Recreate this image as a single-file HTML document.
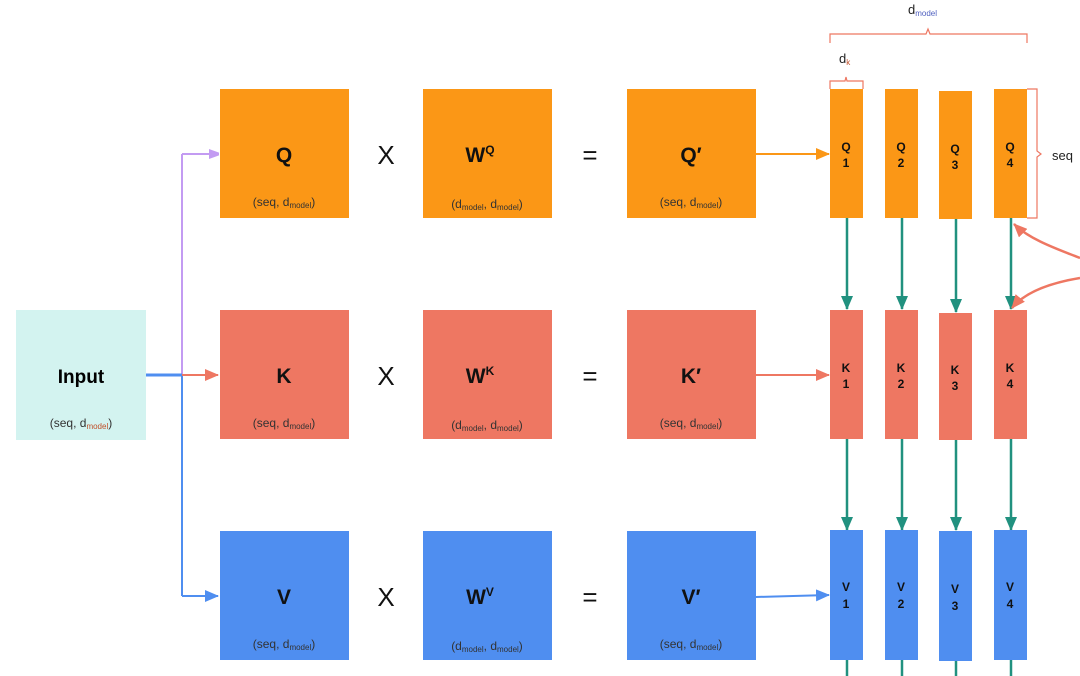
<!DOCTYPE html>
<html><head><meta charset="utf-8"><style>
html,body{margin:0;padding:0;background:#fff;width:1080px;height:676px;overflow:hidden}
svg text{font-family:"Liberation Sans",sans-serif}
</style></head><body>
<svg width="1080" height="676" viewBox="0 0 1080 676" xmlns="http://www.w3.org/2000/svg">
<defs>
<marker id="aP" markerWidth="10" markerHeight="10" refX="9" refY="5" orient="auto" markerUnits="userSpaceOnUse"><path d="M0,0 L14,5 L0,10z" fill="#c39bf2"/></marker>
<marker id="aS" markerWidth="14" markerHeight="12" refX="13" refY="6" orient="auto" markerUnits="userSpaceOnUse"><path d="M0,0 L14,6 L0,12z" fill="#ee7762"/></marker>
<marker id="aB" markerWidth="14" markerHeight="12" refX="13" refY="6" orient="auto" markerUnits="userSpaceOnUse"><path d="M0,0 L14,6 L0,12z" fill="#4f8ef0"/></marker>
<marker id="aO" markerWidth="14" markerHeight="12" refX="13" refY="6" orient="auto" markerUnits="userSpaceOnUse"><path d="M0,0 L14,6 L0,12z" fill="#fb9716"/></marker>
<marker id="aT" markerWidth="14" markerHeight="12" refX="13" refY="6" orient="auto" markerUnits="userSpaceOnUse"><path d="M0,0 L14,6 L0,12z" fill="#21917f"/></marker>
</defs>

<!-- Input -->
<rect x="16" y="310" width="130" height="130" fill="#d3f3f0"/>
<text x="81" y="383" font-size="19" font-weight="bold" text-anchor="middle">Input</text>
<text x="81" y="427" font-size="12" text-anchor="middle" fill="#333">(seq, d<tspan font-size="8" dy="2" fill="#c0502a">model</tspan><tspan dy="-2">)</tspan></text>

<!-- branch lines -->
<line x1="182" y1="154" x2="182" y2="375" stroke="#c39bf2" stroke-width="2"/>
<line x1="182" y1="154" x2="218" y2="154" stroke="#c39bf2" stroke-width="2" marker-end="url(#aP)"/>
<line x1="182" y1="375" x2="182" y2="596" stroke="#4f8ef0" stroke-width="2"/>
<line x1="182" y1="596" x2="218" y2="596" stroke="#4f8ef0" stroke-width="2" marker-end="url(#aB)"/>
<line x1="146" y1="375" x2="182" y2="375" stroke="#4f8ef0" stroke-width="3"/>
<line x1="182" y1="375" x2="218" y2="375" stroke="#ee7762" stroke-width="2" marker-end="url(#aS)"/>

<!-- rows -->
<g font-size="12" text-anchor="middle" fill="#222">
<!-- Q -->
<rect x="220" y="89" width="129" height="129" fill="#fb9716"/>
<rect x="423" y="89" width="129" height="129" fill="#fb9716"/>
<rect x="627" y="89" width="129" height="129" fill="#fb9716"/>
<!-- K -->
<rect x="220" y="310" width="129" height="129" fill="#ee7762"/>
<rect x="423" y="310" width="129" height="129" fill="#ee7762"/>
<rect x="627" y="310" width="129" height="129" fill="#ee7762"/>
<!-- V -->
<rect x="220" y="531" width="129" height="129" fill="#4f8ef0"/>
<rect x="423" y="531" width="129" height="129" fill="#4f8ef0"/>
<rect x="627" y="531" width="129" height="129" fill="#4f8ef0"/>
</g>

<g font-weight="bold" font-size="21" text-anchor="middle" fill="#111">
<text x="284" y="162">Q</text><text x="480" y="162">W<tspan font-size="12" dy="-8">Q</tspan></text><text x="691" y="162">Q′</text>
<text x="284" y="383">K</text><text x="480" y="383">W<tspan font-size="12" dy="-8">K</tspan></text><text x="691" y="383">K′</text>
<text x="284" y="604">V</text><text x="480" y="604">W<tspan font-size="12" dy="-8">V</tspan></text><text x="691" y="604">V′</text>
</g>
<g font-size="26" text-anchor="middle" fill="#111">
<text x="386" y="164">X</text><text x="590" y="164">=</text>
<text x="386" y="385">X</text><text x="590" y="385">=</text>
<text x="386" y="606">X</text><text x="590" y="606">=</text>
</g>
<g font-size="12" text-anchor="middle" fill="#333">
<text x="284" y="206">(seq, d<tspan font-size="8" dy="2">model</tspan><tspan dy="-2">)</tspan></text>
<text x="487" y="208">(d<tspan font-size="8" dy="2">model</tspan><tspan dy="-2">, d</tspan><tspan font-size="8" dy="2">model</tspan><tspan dy="-2">)</tspan></text>
<text x="691" y="206">(seq, d<tspan font-size="8" dy="2">model</tspan><tspan dy="-2">)</tspan></text>
<text x="284" y="427">(seq, d<tspan font-size="8" dy="2">model</tspan><tspan dy="-2">)</tspan></text>
<text x="487" y="429">(d<tspan font-size="8" dy="2">model</tspan><tspan dy="-2">, d</tspan><tspan font-size="8" dy="2">model</tspan><tspan dy="-2">)</tspan></text>
<text x="691" y="427">(seq, d<tspan font-size="8" dy="2">model</tspan><tspan dy="-2">)</tspan></text>
<text x="284" y="648">(seq, d<tspan font-size="8" dy="2">model</tspan><tspan dy="-2">)</tspan></text>
<text x="487" y="650">(d<tspan font-size="8" dy="2">model</tspan><tspan dy="-2">, d</tspan><tspan font-size="8" dy="2">model</tspan><tspan dy="-2">)</tspan></text>
<text x="691" y="648">(seq, d<tspan font-size="8" dy="2">model</tspan><tspan dy="-2">)</tspan></text>
</g>

<!-- arrows prime -> columns -->
<line x1="756" y1="154" x2="829" y2="154" stroke="#fb9716" stroke-width="2" marker-end="url(#aO)"/>
<line x1="756" y1="375" x2="829" y2="375" stroke="#ee7762" stroke-width="2" marker-end="url(#aS)"/>
<line x1="756" y1="597" x2="829" y2="595" stroke="#4f8ef0" stroke-width="2" marker-end="url(#aB)"/>

<!-- teal vertical arrows -->
<g stroke="#21917f" stroke-width="2.5">
<line x1="847" y1="218" x2="847" y2="309" marker-end="url(#aT)"/>
<line x1="902" y1="218" x2="902" y2="309" marker-end="url(#aT)"/>
<line x1="956" y1="219" x2="956" y2="312" marker-end="url(#aT)"/>
<line x1="1011" y1="218" x2="1011" y2="309" marker-end="url(#aT)"/>
<line x1="847" y1="439" x2="847" y2="530" marker-end="url(#aT)"/>
<line x1="902" y1="439" x2="902" y2="530" marker-end="url(#aT)"/>
<line x1="956" y1="440" x2="956" y2="530" marker-end="url(#aT)"/>
<line x1="1011" y1="439" x2="1011" y2="530" marker-end="url(#aT)"/>
<line x1="847" y1="660" x2="847" y2="676"/>
<line x1="902" y1="660" x2="902" y2="676"/>
<line x1="956" y1="660" x2="956" y2="676"/>
<line x1="1011" y1="660" x2="1011" y2="676"/>
</g>

<!-- columns -->
<g>
<rect x="830" y="89" width="33" height="129" fill="#fb9716"/>
<rect x="885" y="89" width="33" height="129" fill="#fb9716"/>
<rect x="939" y="91" width="33" height="128" fill="#fb9716"/>
<rect x="994" y="89" width="33" height="129" fill="#fb9716"/>
<rect x="830" y="310" width="33" height="129" fill="#ee7762"/>
<rect x="885" y="310" width="33" height="129" fill="#ee7762"/>
<rect x="939" y="313" width="33" height="127" fill="#ee7762"/>
<rect x="994" y="310" width="33" height="129" fill="#ee7762"/>
<rect x="830" y="530" width="33" height="130" fill="#4f8ef0"/>
<rect x="885" y="530" width="33" height="130" fill="#4f8ef0"/>
<rect x="939" y="531" width="33" height="130" fill="#4f8ef0"/>
<rect x="994" y="530" width="33" height="130" fill="#4f8ef0"/>
</g>
<g font-size="12" font-weight="bold" text-anchor="middle" fill="#111">
<text x="846" y="151">Q</text><text x="846" y="167">1</text>
<text x="901" y="151">Q</text><text x="901" y="167">2</text>
<text x="955" y="153">Q</text><text x="955" y="169">3</text>
<text x="1010" y="151">Q</text><text x="1010" y="167">4</text>
<text x="846" y="372">K</text><text x="846" y="388">1</text>
<text x="901" y="372">K</text><text x="901" y="388">2</text>
<text x="955" y="374">K</text><text x="955" y="390">3</text>
<text x="1010" y="372">K</text><text x="1010" y="388">4</text>
<text x="846" y="591">V</text><text x="846" y="608">1</text>
<text x="901" y="591">V</text><text x="901" y="608">2</text>
<text x="955" y="593">V</text><text x="955" y="610">3</text>
<text x="1010" y="591">V</text><text x="1010" y="608">4</text>
</g>

<!-- curved salmon arrows -->
<path d="M1080,258 C1060,250 1030,240 1014,224" fill="none" stroke="#ee7762" stroke-width="2.5" marker-end="url(#aS)"/>
<path d="M1080,278 C1050,283 1025,292 1012,308" fill="none" stroke="#ee7762" stroke-width="2.5" marker-end="url(#aS)"/>

<!-- braces -->
<g fill="none" stroke="#ee7762" stroke-width="1.2">
<path d="M830,43 L830,34 L926,34 L928,29 L930,34 L1027,34 L1027,43"/>
<path d="M830,89 L830,81 L845,81 L846,77 L847,81 L863,81 L863,89"/>
<path d="M1027,89 L1037,89 L1037,151 L1041,154 L1037,157 L1037,218 L1027,218"/>
</g>
<text x="908" y="14" font-size="13" fill="#222">d<tspan font-size="8" dy="2" fill="#4f5fbf">model</tspan></text>
<text x="839" y="63" font-size="13" fill="#222">d<tspan font-size="8" dy="2" fill="#c0502a">k</tspan></text>
<text x="1052" y="160" font-size="13" fill="#222">seq</text>
</svg>
</body></html>
